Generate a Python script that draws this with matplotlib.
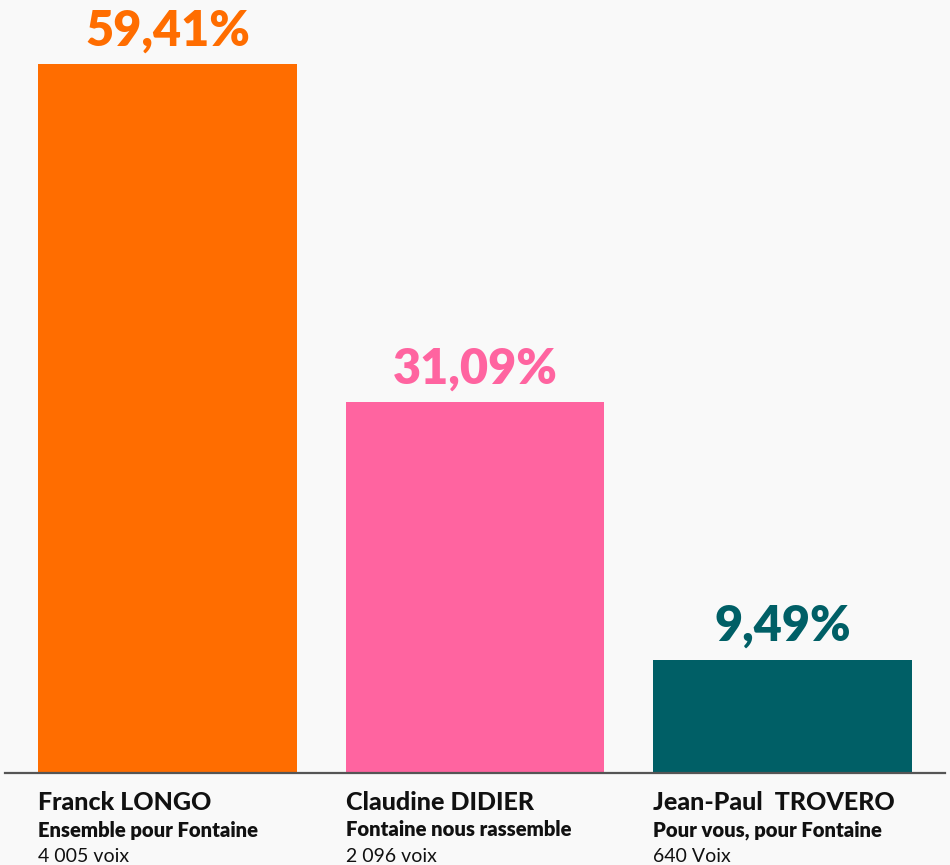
import matplotlib
matplotlib.use("Agg")
import matplotlib.pyplot as plt
from matplotlib.transforms import blended_transform_factory

names = ["Franck LONGO", "Claudine DIDIER", "Jean-Paul  TROVERO"]
parties = ["Ensemble pour Fontaine", "Fontaine nous rassemble", "Pour vous, pour Fontaine"]
votes = ["4 005 voix", "2 096 voix", "640 Voix"]
values = [59.41, 31.09, 9.49]
labels = ["59,41%", "31,09%", "9,49%"]
colors = ["#ff6d00", "#ff64a0", "#005f66"]

bg = "#f9f9f9"
fig = plt.figure(figsize=(9.5, 8.65), dpi=100, facecolor=bg)
ax = fig.add_axes([5/950, 1-773/865, 940/950, 773/865])
ax.set_facecolor(bg)
x = list(range(len(values)))
width = 0.842
ax.bar(x, values, width=width, color=colors, zorder=2)
ax.set_xlim(-0.528, 2.528)
ax.set_ylim(0, 64.77)
for s in ["top", "right", "left"]:
    ax.spines[s].set_visible(False)
ax.spines["bottom"].set_color("#555555")
ax.spines["bottom"].set_linewidth(1.6)
ax.set_xticks([])
ax.set_yticks([])

for xi, v, lab, c in zip(x, values, labels, colors):
    ax.text(xi, v + 0.9, lab, ha="center", va="bottom", fontsize=35,
            fontweight="heavy", family="Lato", color=c)

tr = blended_transform_factory(ax.transData, fig.transFigure)
for xi, n, p, vt in zip(x, names, parties, votes):
    xl = xi - width / 2
    ax.text(xl, 1 - 803/865, n, transform=tr, ha="left", va="center",
            fontsize=18, fontweight="black", family="Lato", color="#111111")
    ax.text(xl, 1 - 830/865, p, transform=tr, ha="left", va="center",
            fontsize=14.6, fontweight="heavy", family="Lato", color="#111111")
    ax.text(xl, 1 - 856/865, vt, transform=tr, ha="left", va="center",
            fontsize=14, fontweight="normal", family="Lato", color="#111111")

fig.savefig("out.png", dpi=100, facecolor=bg)
